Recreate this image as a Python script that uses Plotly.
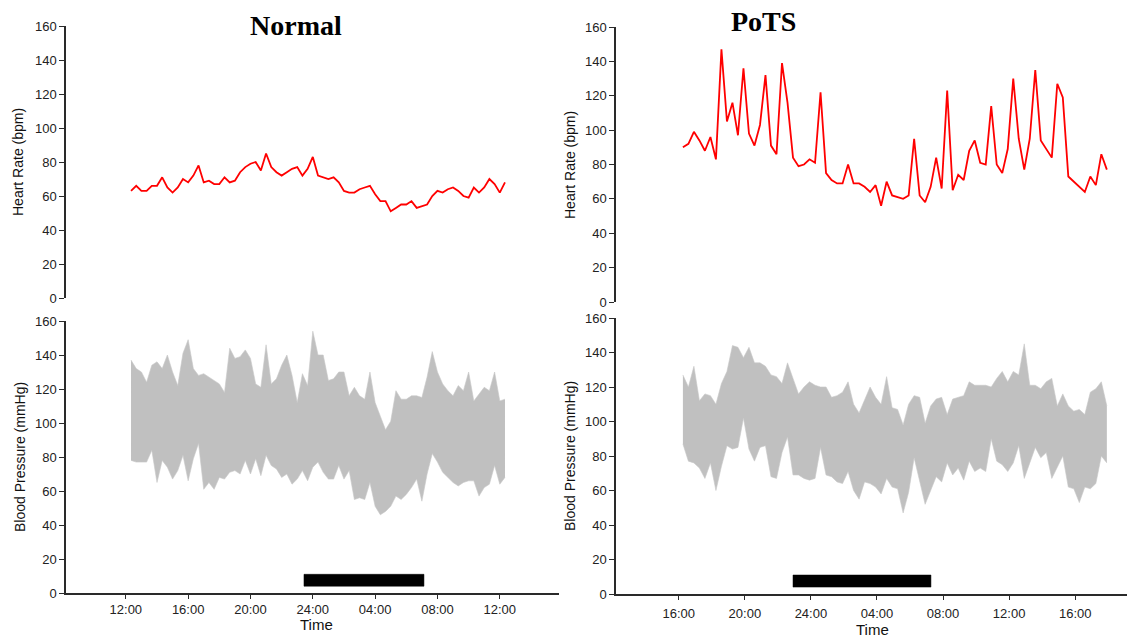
import plotly.graph_objects as go

# ---------------- data ----------------
normal_times = [
    "12:20", "12:40", "13:00", "13:20", "13:40", "14:00", "14:20", "14:40", "15:00", "15:20", "15:40", "16:00",
    "16:20", "16:40", "17:00", "17:20", "17:40", "18:00", "18:20", "18:40", "19:00", "19:20", "19:40", "20:00",
    "20:20", "20:40", "21:00", "21:20", "21:40", "22:00", "22:20", "22:40", "23:00", "23:20", "23:40", "00:00",
    "00:20", "00:40", "01:00", "01:20", "01:40", "02:00", "02:20", "02:40", "03:00", "03:20", "03:40", "04:00",
    "04:20", "04:40", "05:00", "05:20", "05:40", "06:00", "06:20", "06:40", "07:00", "07:20", "07:40", "08:00",
    "08:20", "08:40", "09:00", "09:20", "09:40", "10:00", "10:20", "10:40", "11:00", "11:20", "11:40", "12:00",
    "12:20",
]
normal_hr = [
    63, 66, 63, 63, 66, 66, 71, 65, 62, 65,
    70, 68, 72, 78, 68, 69, 67, 67, 71, 68,
    69, 74, 77, 79, 80, 75, 85, 77, 74, 72,
    74, 76, 77, 72, 76, 83, 72, 71, 70, 71,
    68, 63, 62, 62, 64, 65, 66, 61, 57, 57,
    51, 53, 55, 55, 57, 53, 54, 55, 60, 63,
    62, 64, 65, 63, 60, 59, 65, 62, 65, 70,
    67, 62, 68,
]
normal_sys = [
    137, 132, 130, 124, 134, 136, 132, 140, 130, 122,
    141, 149, 132, 128, 129, 127, 125, 123, 118, 144,
    138, 139, 143, 138, 123, 121, 146, 123, 126, 134,
    140, 128, 112, 129, 122, 154, 140, 140, 125, 126,
    130, 130, 116, 121, 116, 114, 130, 112, 104, 96,
    101, 119, 114, 114, 116, 116, 115, 127, 142, 130,
    123, 119, 116, 122, 119, 130, 113, 117, 121, 119,
    130, 113, 114,
]
normal_dia = [
    78, 77, 77, 77, 84, 65, 78, 74, 67, 72,
    81, 66, 79, 88, 61, 65, 61, 68, 67, 71,
    72, 70, 78, 70, 79, 69, 81, 75, 73, 68,
    70, 64, 67, 72, 66, 74, 77, 71, 67, 67,
    75, 67, 72, 55, 56, 55, 65, 51, 46, 48,
    51, 57, 55, 58, 62, 67, 54, 70, 82, 77,
    71, 68, 65, 63, 65, 66, 66, 57, 62, 64,
    75, 64, 68,
]

pots_times = [
    "16:15", "16:35", "16:55", "17:15", "17:35", "17:55", "18:15", "18:35", "18:55", "19:15", "19:35", "19:55",
    "20:15", "20:35", "20:55", "21:15", "21:35", "21:55", "22:15", "22:35", "22:55", "23:15", "23:35", "23:55",
    "00:15", "00:35", "00:55", "01:15", "01:35", "01:55", "02:15", "02:35", "02:55", "03:15", "03:35", "03:55",
    "04:15", "04:35", "04:55", "05:15", "05:35", "05:55", "06:15", "06:35", "06:55", "07:15", "07:35", "07:55",
    "08:15", "08:35", "08:55", "09:15", "09:35", "09:55", "10:15", "10:35", "10:55", "11:15", "11:35", "11:55",
    "12:15", "12:35", "12:55", "13:15", "13:35", "13:55", "14:15", "14:35", "14:55", "15:15", "15:35", "15:55",
    "16:15", "16:35", "16:55", "17:15", "17:35", "17:55",
]
pots_hr = [
    90, 92, 99, 94, 88, 96, 83, 147, 105, 116,
    97, 136, 98, 91, 103, 132, 91, 86, 139, 116,
    84, 79, 80, 83, 81, 122, 75, 71, 69, 69,
    80, 69, 69, 67, 64, 68, 56, 70, 62, 61,
    60, 62, 95, 62, 58, 67, 84, 66, 123, 65,
    74, 71, 88, 94, 81, 80, 114, 80, 75, 89,
    130, 95, 77, 95, 135, 94, 89, 84, 127, 119,
    73, None, None, 64, 73, 68, 86, 77,
]
pots_sys = [
    127, 120, 132, 112, 116, 115, 110, 122, 129, 144,
    143, 137, 143, 134, 134, 132, 127, 126, 122, 134,
    125, 116, 120, 123, 121, 120, 120, 114, 115, 117,
    123, 110, 105, 113, 120, 114, 110, 126, 108, 107,
    98, 110, 115, 114, 99, 109, 113, 114, 104, 113,
    114, 115, 123, 121, 121, 121, 120, 125, 129, 123,
    129, 127, 145, 121, 121, 119, 123, 125, 109, 116,
    109, 106, 107, 104, 117, 119, 123, 109,
]
pots_dia = [
    87, 77, 76, 73, 67, 76, 60, 74, 86, 84,
    85, 102, 84, 77, 85, 86, 68, 67, 82, 91,
    69, 69, 67, 66, 67, 85, 69, 68, 65, 64,
    71, 60, 55, 65, 64, 62, 58, 67, 62, 61,
    47, 59, 79, 65, 52, 60, 68, 65, 76, 69,
    73, 66, 77, 71, 73, 71, 90, 77, 75, 71,
    76, 86, 67, 76, 85, 79, 82, 67, 74, 80,
    62, 61, 53, 62, 61, 64, 80, 76,
]

normal_sleep = ["23:26", "07:08"]
pots_sleep = ["22:55", "07:16"]
sleep_bar = [4, 11]

normal_tickvals = [12, 16, 20, 24, 28, 32, 36]
normal_ticktext = ["12:00", "16:00", "20:00", "24:00", "04:00", "08:00", "12:00"]
pots_tickvals = [16, 20, 24, 28, 32, 36, 40]
pots_ticktext = ["16:00", "20:00", "24:00", "04:00", "08:00", "12:00", "16:00"]
y_ticks = [0, 20, 40, 60, 80, 100, 120, 140, 160]


def to_hours(labels):
    out, prev, offset = [], -1.0, 0.0
    for s in labels:
        h, m = map(int, s.split(":"))
        v = h + m / 60 + offset
        if v < prev:
            offset += 24
            v += 24
        out.append(v)
        prev = v
    return out


def sleep_hours(pair):
    a, b = [int(x.split(":")[0]) + int(x.split(":")[1]) / 60 for x in pair]
    if b < a:
        b += 24
    return a, b


nt = to_hours(normal_times)
pt = to_hours(pots_times)

W, H = 1135, 636
OFF = 8  # page body margin offset
FONT = "Liberation Sans"
AX = "#2a2a2a"


def sx(p):
    return (p - OFF) / W


def sy(p):
    return 1 - (p - OFF) / H


def px_dom_x(a, b):
    return [sx(a), sx(b)]


def px_dom_y(top, bottom):
    return [sy(bottom), sy(top)]


fig = go.Figure()

# Heart rate lines
fig.add_trace(go.Scatter(x=nt, y=normal_hr, mode="lines", line=dict(color="#ff0000", width=1.8),
                         xaxis="x", yaxis="y", showlegend=False))
fig.add_trace(go.Scatter(x=pt, y=pots_hr, mode="lines", line=dict(color="#ff0000", width=1.8),
                         connectgaps=True, xaxis="x2", yaxis="y2", showlegend=False))

# Blood pressure bands
band = "#c0c0c0"
fig.add_trace(go.Scatter(x=nt, y=normal_dia, mode="lines", line=dict(color="#c8c8c8", width=0.6),
                         xaxis="x3", yaxis="y3", showlegend=False))
fig.add_trace(go.Scatter(x=nt, y=normal_sys, mode="lines", line=dict(color="#c8c8c8", width=0.6),
                         fill="tonexty", fillcolor=band, xaxis="x3", yaxis="y3", showlegend=False))
fig.add_trace(go.Scatter(x=pt, y=pots_dia, mode="lines", line=dict(color="#c8c8c8", width=0.6),
                         xaxis="x4", yaxis="y4", showlegend=False))
fig.add_trace(go.Scatter(x=pt, y=pots_sys, mode="lines", line=dict(color="#c8c8c8", width=0.6),
                         fill="tonexty", fillcolor=band, xaxis="x4", yaxis="y4", showlegend=False))

# Sleep bars
for pair, xr, yr in [(normal_sleep, "x3", "y3"), (pots_sleep, "x4", "y4")]:
    a, b = sleep_hours(pair)
    fig.add_shape(type="rect", xref=xr, yref=yr, x0=a, x1=b, y0=sleep_bar[0], y1=sleep_bar[1],
                  fillcolor="black", line=dict(color="black", width=0.5))

tickfont = dict(family=FONT, size=13, color="#222")

normal_range = [8.16, 39.8]
pots_range = [12.2, 43.5]

common_y = dict(range=[0, 160], tickvals=y_ticks, showline=True, linecolor=AX, linewidth=1.5,
                ticks="outside", ticklen=5, tickcolor=AX, tickwidth=1.2, showgrid=False,
                zeroline=False, tickfont=tickfont, automargin=False)

layout = dict(
    width=W, height=H, margin=dict(l=0, r=0, t=0, b=0, pad=0, autoexpand=False),
    paper_bgcolor="white", plot_bgcolor="white", showlegend=False,
    xaxis=dict(domain=px_dom_x(66, 559), range=normal_range, visible=False, anchor="y", automargin=False),
    xaxis2=dict(domain=px_dom_x(616, 1133), range=pots_range, visible=False, anchor="y2", automargin=False),
    xaxis3=dict(domain=px_dom_x(66, 559), range=normal_range, tickvals=normal_tickvals,
                ticktext=normal_ticktext, showline=True, linecolor=AX, linewidth=1.5,
                ticks="outside", ticklen=4, tickcolor=AX, showgrid=False, zeroline=False,
                tickfont=tickfont, anchor="y3", automargin=False),
    xaxis4=dict(domain=px_dom_x(616, 1133), range=pots_range, tickvals=pots_tickvals,
                ticktext=pots_ticktext, showline=True, linecolor=AX, linewidth=1.5,
                ticks="outside", ticklen=4, tickcolor=AX, showgrid=False, zeroline=False,
                tickfont=tickfont, ticklabelstandoff=3, anchor="y4", automargin=False),
    yaxis=dict(domain=px_dom_y(26, 298), anchor="x", **common_y),
    yaxis2=dict(domain=px_dom_y(27, 302), anchor="x2", **common_y),
    yaxis3=dict(domain=px_dom_y(321, 593), anchor="x3", **common_y),
    yaxis4=dict(domain=px_dom_y(318, 594), anchor="x4", **common_y),
)
fig.update_layout(**layout)

ann_font = dict(family=FONT, size=14, color="#111")
annotations = [
    dict(text="<b>Normal</b>", x=sx(296), y=sy(25), font=dict(family="Liberation Serif", size=28, color="black")),
    dict(text="<b>PoTS</b>", x=sx(763), y=sy(21), font=dict(family="Liberation Serif", size=28, color="black")),
    dict(text="Heart Rate (bpm)", x=sx(18), y=sy(162), textangle=-90, font=ann_font),
    dict(text="Blood Pressure (mmHg)", x=sx(20), y=sy(457), textangle=-90, font=ann_font),
    dict(text="Heart Rate (bpm)", x=sx(570), y=sy(165), textangle=-90, font=ann_font),
    dict(text="Blood Pressure (mmHg)", x=sx(570), y=sy(456), textangle=-90, font=ann_font),
    dict(text="Time", x=sx(316), y=sy(624), font=dict(family=FONT, size=15, color="#111")),
    dict(text="Time", x=sx(872), y=sy(629), font=dict(family=FONT, size=15, color="#111")),
]
for a in annotations:
    a.update(xref="paper", yref="paper", showarrow=False, xanchor="center", yanchor="middle")
fig.update_layout(annotations=annotations)

fig.write_html("out.html")
